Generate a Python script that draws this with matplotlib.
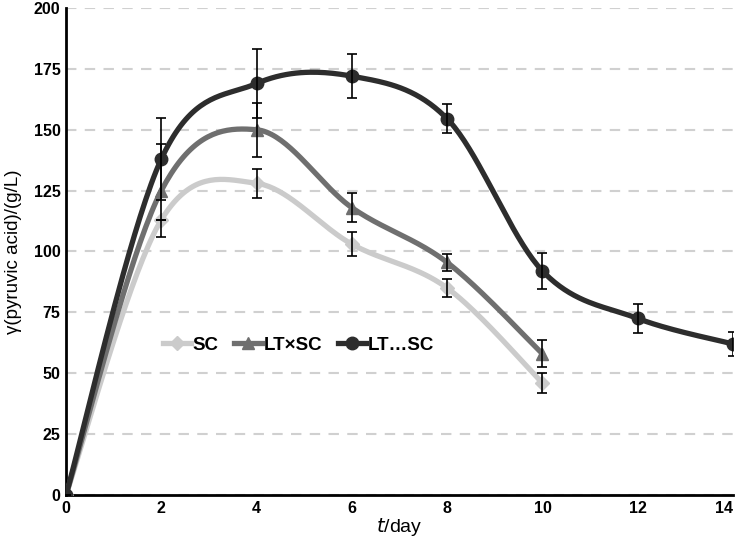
import numpy as np
import matplotlib.pyplot as plt
from matplotlib.lines import Line2D

# data
days = [0, 2, 4, 6, 8, 10, 12, 14]

sc_days = [0, 2, 4, 6, 8, 10]
sc = [0, 113, 128, 103, 85, 46]
sc_err = [0, 0, 6, 5, 3.5, 4]

ltxsc_days = [0, 2, 4, 6, 8, 10]
ltxsc = [0, 125, 150, 118, 95.5, 58]
ltxsc_err = [0, 19, 11, 6, 3.5, 5.5]

ltsc = [0, 138, 169, 172, 154.5, 92, 72.5, 62]
ltsc_err = [0, 17, 14, 9, 6, 7.5, 6, 5]

labels = ["SC", "LT×SC", "LT…SC"]
colors = ["#cbcbcb", "#6f6f6f", "#2d2d2d"]
markers = ["D", "^", "o"]


def smooth(x, y, n=40, f=1 / 6):
    # excel-like smoothed line (bezier through the points)
    x = np.asarray(x, float)
    y = np.asarray(y, float)
    px = np.concatenate([[x[0]], x, [x[-1]]])
    py = np.concatenate([[y[0]], y, [y[-1]]])
    t = np.linspace(0, 1, n)
    xs, ys = [], []
    for i in range(1, len(px) - 2):
        p0 = np.array([px[i], py[i]])
        p3 = np.array([px[i + 1], py[i + 1]])
        c1 = p0 + (np.array([px[i + 1], py[i + 1]]) - np.array([px[i - 1], py[i - 1]])) * f
        c2 = p3 - (np.array([px[i + 2], py[i + 2]]) - np.array([px[i], py[i]])) * f
        b = ((1 - t) ** 3)[:, None] * p0 + (3 * (1 - t) ** 2 * t)[:, None] * c1 \
            + (3 * (1 - t) * t ** 2)[:, None] * c2 + (t ** 3)[:, None] * p3
        xs.append(b[:, 0])
        ys.append(b[:, 1])
    return np.concatenate(xs), np.concatenate(ys)


plt.rcParams['font.family'] = ['Liberation Sans', 'DejaVu Sans']

fig = plt.figure(figsize=(7.37, 5.44), dpi=100)
ax = fig.add_axes([0.0896, 0.0901, 0.9050, 0.8952])

series = [(sc_days, sc, sc_err), (ltxsc_days, ltxsc, ltxsc_err), (days, ltsc, ltsc_err)]
for k, (x, y, e) in enumerate(series):
    sx, sy = smooth(x, y)
    ax.plot(sx, sy, color=colors[k], lw=3.8, solid_capstyle='round', zorder=3 + k)
    ax.plot(x, y, linestyle='none', marker=markers[k], color=colors[k],
            markersize=9 if k else 7, zorder=3 + k)
    ax.errorbar(x, y, yerr=e, fmt='none', ecolor='black', elinewidth=1.2,
                capsize=3.5, capthick=1.2, zorder=10)

ax.set_xlim(0, 14)
ax.set_ylim(0, 200)
ax.set_xticks(range(0, 15, 2))
ax.set_yticks(range(0, 201, 25))
ax.yaxis.grid(True, linestyle=(0, (5, 4)), color='#d0d0d0', lw=1.5)
ax.set_axisbelow(True)
for s in ['top', 'right']:
    ax.spines[s].set_visible(False)
for s in ['left', 'bottom']:
    ax.spines[s].set_linewidth(2)
ax.tick_params(length=0, labelsize=11.5, pad=4)
for lab in ax.get_xticklabels() + ax.get_yticklabels():
    lab.set_fontweight('bold')
ax.get_xticklabels()[-1].set_horizontalalignment('right')

ax.set_xlabel(r"$\it{t}$/day", fontsize=14, labelpad=0)
ax.set_ylabel("γ(pyruvic acid)/(g/L)", fontsize=13.5, labelpad=8)

handles = [Line2D([], [], color=colors[k], lw=3.8, marker=markers[k],
                  markersize=9 if k else 7) for k in range(3)]
leg = ax.legend(handles, labels, loc='center left', bbox_to_anchor=(0.12, 0.308),
                ncol=3, frameon=False, handlelength=1.5, handletextpad=0.1,
                columnspacing=0.8, prop={'size': 13.5, 'weight': 'bold'})

fig.savefig("out.png", dpi=100)
